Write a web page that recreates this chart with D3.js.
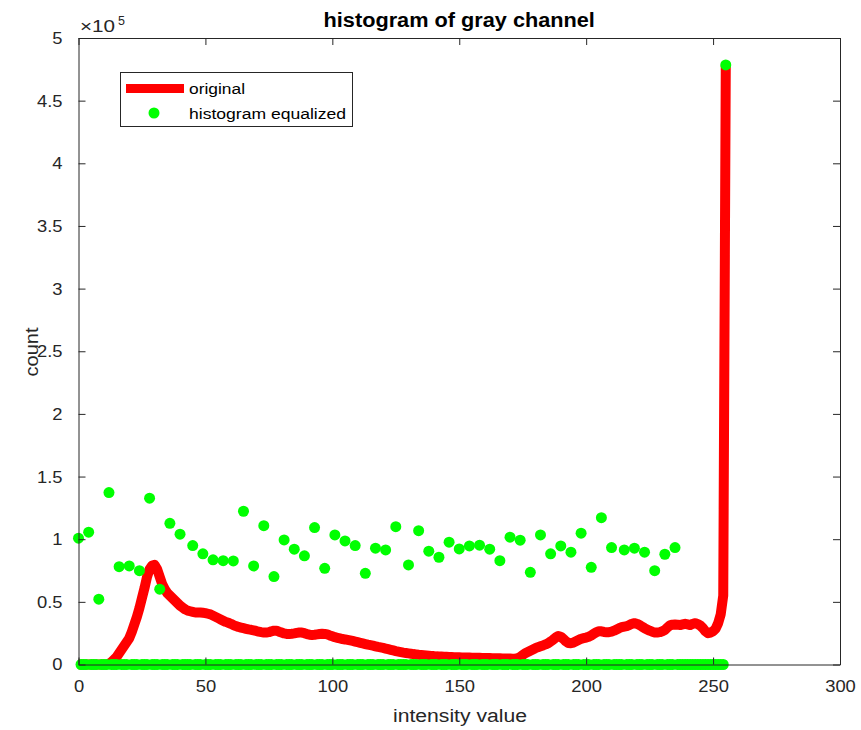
<!DOCTYPE html>
<html>
<head>
<meta charset="utf-8">
<script src="https://cdn.jsdelivr.net/npm/d3@7"></script>
<style>
  html, body { margin: 0; padding: 0; background: #fff; }
  svg { display: block; font-family: "Liberation Sans", Arial, Helvetica, sans-serif; }
</style>
</head>
<body>
<svg id="chart" width="861" height="730"></svg>
<script>
// ---------------- data ----------------
const chartTitle = "histogram of gray channel";
const xLabel = "intensity value";
const yLabel = "count";
const seriesNames = ["original", "histogram equalized"];
const xTicks = [0, 50, 100, 150, 200, 250, 300];
const yTicks = [0, 0.5e5, 1e5, 1.5e5, 2e5, 2.5e5, 3e5, 3.5e5, 4e5, 4.5e5, 5e5];
const yTickLabels = ["0", "0.5", "1", "1.5", "2", "2.5", "3", "3.5", "4", "4.5", "5"];

// intensity levels 0..255
const intensity = d3.range(0, 256);

// original histogram (counts, in units of 1e5)
const originalE5 = [
  0,0,0,0,0,0,0,0,0,0,0,0,                                   // 0-11
  0.005,0.02,0.04,0.06,0.09,0.12,0.15,0.18,0.21,0.26,         // 12-21
  0.32,0.38,0.45,0.53,0.61,0.70,0.76,0.79,0.795,0.76,         // 22-31
  0.70,0.64,0.60,0.57,0.55,0.53,0.51,0.49,0.47,0.455,         // 32-41
  0.44,0.43,0.425,0.42,0.415,0.415,0.415,0.413,0.41,0.405,    // 42-51
  0.40,0.39,0.38,0.37,0.36,0.35,0.34,0.333,0.325,0.315,       // 52-61
  0.307,0.30,0.295,0.29,0.285,0.28,0.277,0.273,0.268,0.262,   // 62-71
  0.258,0.255,0.255,0.258,0.265,0.27,0.27,0.262,0.255,0.248,  // 72-81
  0.244,0.243,0.245,0.248,0.252,0.255,0.255,0.25,0.243,0.238, // 82-91
  0.236,0.237,0.24,0.243,0.245,0.244,0.24,0.232,0.225,0.218,  // 92-101
  0.213,0.208,0.203,0.20,0.196,0.192,0.188,0.183,0.178,0.173, // 102-111
  0.168,0.163,0.158,0.154,0.15,0.145,0.14,0.136,0.132,0.127,  // 112-121
  0.122,0.117,0.112,0.107,0.103,0.099,0.095,0.092,0.089,0.086,// 122-131
  0.083,0.081,0.078,0.076,0.074,0.072,0.07,0.068,0.067,0.065, // 132-141
  0.064,0.063,0.062,0.061,0.06,0.059,0.058,0.058,0.057,0.056, // 142-151
  0.056,0.055,0.055,0.054,0.054,0.053,0.053,0.052,0.052,0.051,// 152-161
  0.051,0.05,0.05,0.049,0.049,0.048,0.048,0.047,0.047,0.046,  // 162-171
  0.046,0.05,0.06,0.075,0.09,0.10,0.11,0.12,0.13,0.138,       // 172-181
  0.145,0.152,0.16,0.17,0.183,0.198,0.215,0.228,0.222,0.205,  // 182-191
  0.185,0.172,0.17,0.175,0.185,0.195,0.205,0.21,0.215,0.222,  // 192-201
  0.232,0.245,0.258,0.265,0.265,0.26,0.258,0.258,0.262,0.27,  // 202-211
  0.28,0.29,0.298,0.303,0.307,0.315,0.325,0.33,0.325,0.315,   // 212-221
  0.302,0.29,0.28,0.27,0.262,0.256,0.255,0.258,0.265,0.275,   // 222-231
  0.295,0.312,0.318,0.32,0.318,0.315,0.32,0.325,0.32,0.315,   // 232-241
  0.325,0.33,0.322,0.31,0.29,0.265,0.25,0.255,0.265,0.285,    // 242-251
  0.33,0.40,0.55,4.78                                         // 252-255
];

// histogram-equalized: non-empty bins (all other bins are 0)
const eqBins = [0,4,8,12,16,20,24,28,32,36,40,45,49,53,57,61,65,69,73,77,81,85,89,93,97,
  101,105,109,113,117,121,125,130,134,138,142,146,150,154,158,162,166,170,174,178,182,186,
  190,194,198,202,206,210,215,219,223,227,231,235,255];
const eqValuesE5 = [1.008,1.056,0.521,1.372,0.781,0.787,0.749,1.327,0.601,1.127,1.040,0.949,
  0.883,0.835,0.829,0.827,1.223,0.787,1.108,0.702,0.994,0.920,0.867,1.093,0.768,1.034,0.986,
  0.949,0.728,0.928,0.914,1.100,0.795,1.068,0.904,0.856,0.976,0.922,0.946,0.952,0.920,0.829,
  1.016,0.992,0.736,1.034,0.883,0.946,0.896,1.048,0.776,1.172,0.933,0.914,0.928,0.896,0.749,
  0.880,0.933,4.785];

// ---------------- build series ----------------
const original = intensity.map((v, i) => ({ x: v, y: originalE5[i] * 1e5 }));
const eqMap = new Map(eqBins.map((b, i) => [b, eqValuesE5[i] * 1e5]));
const equalized = intensity.map(v => ({ x: v, y: eqMap.has(v) ? eqMap.get(v) : 0 }));

// ---------------- layout ----------------
const svg = d3.select("#chart");
const M = { left: 78.5, right: 840, top: 38, bottom: 664.5 };
const ink = "#262626";
const STRETCH = 1.08;   // reference glyphs are a bit wider than Liberation Sans

function widen(sel, factor) {
  sel.each(function () {
    const w = this.getComputedTextLength();
    if (w > 0) {
      this.setAttribute("textLength", (w * factor).toFixed(2));
      this.setAttribute("lengthAdjust", "spacingAndGlyphs");
    }
  });
  return sel;
}

const xScale = d3.scaleLinear().domain([0, 300]).range([M.left, M.right]);
const yScale = d3.scaleLinear().domain([0, 5e5]).range([M.bottom, M.top]);

svg.append("rect").attr("width", 861).attr("height", 730).attr("fill", "#fff");

svg.append("clipPath").attr("id", "clip").append("rect")
  .attr("x", M.left - 8).attr("y", M.top)
  .attr("width", M.right - M.left + 8).attr("height", M.bottom - M.top + 10);

const plot = svg.append("g").attr("clip-path", "url(#clip)");

plot.append("path")
  .datum(original)
  .attr("fill", "none")
  .attr("stroke", "#ff0000")
  .attr("stroke-width", 10)
  .attr("stroke-linejoin", "round")
  .attr("stroke-linecap", "butt")
  .attr("d", d3.line().x(d => xScale(d.x)).y(d => yScale(d.y)));

plot.append("g").selectAll("circle")
  .data(equalized)
  .join("circle")
  .attr("cx", d => xScale(d.x))
  .attr("cy", d => yScale(d.y))
  .attr("r", 5.5)
  .attr("fill", "#00ff00");

// axes (box with inward ticks on all four sides)
const fontTick = 17;
const axB = svg.append("g").attr("transform", `translate(0,${M.bottom})`)
  .call(d3.axisBottom(xScale).tickValues(xTicks).tickSizeInner(-7).tickSizeOuter(0).tickPadding(15));
const axT = svg.append("g").attr("transform", `translate(0,${M.top})`)
  .call(d3.axisTop(xScale).tickValues(xTicks).tickSizeInner(-7).tickSizeOuter(0).tickFormat(""));
const axL = svg.append("g").attr("transform", `translate(${M.left},0)`)
  .call(d3.axisLeft(yScale).tickValues(yTicks).tickSizeInner(-7).tickSizeOuter(0).tickPadding(16)
    .tickFormat((d, i) => yTickLabels[i]));
const axR = svg.append("g").attr("transform", `translate(${M.right},0)`)
  .call(d3.axisRight(yScale).tickValues(yTicks).tickSizeInner(-7).tickSizeOuter(0).tickFormat(""));

[axB, axT, axL, axR].forEach(g => {
  g.attr("font-size", fontTick).attr("font-family", "'Liberation Sans', Arial, sans-serif");
  g.select(".domain").attr("stroke", ink).attr("stroke-width", 1);
  g.selectAll(".tick line").attr("stroke", ink).attr("stroke-width", 1);
  g.selectAll(".tick text").attr("fill", ink);
});
widen(axB.selectAll(".tick text"), STRETCH);
widen(axL.selectAll(".tick text"), STRETCH);

// exponent label
const expo = svg.append("text").attr("x", 80).attr("y", 32).attr("fill", ink)
  .attr("font-size", 17).attr("textLength", 35).attr("lengthAdjust", "spacingAndGlyphs").text("×10");
svg.append("text").attr("x", 118).attr("y", 25).attr("fill", ink)
  .attr("font-size", 12.5).text("5");

// title & labels
widen(svg.append("text").attr("x", (M.left + M.right) / 2).attr("y", 27)
  .attr("text-anchor", "middle").attr("font-weight", "bold").attr("font-size", 20)
  .attr("fill", "#000").text(chartTitle), 1.085);

svg.append("text").attr("x", 460).attr("y", 722)
  .attr("text-anchor", "middle").attr("font-size", 18).attr("fill", ink)
  .attr("textLength", 134).attr("lengthAdjust", "spacingAndGlyphs").text(xLabel);

svg.append("text").attr("transform", `translate(38,352) rotate(-90)`)
  .attr("text-anchor", "middle").attr("font-size", 18).attr("fill", ink)
  .attr("textLength", 49).attr("lengthAdjust", "spacingAndGlyphs").text(yLabel);

// legend
const lg = svg.append("g");
lg.append("rect").attr("x", 120.5).attr("y", 72.5).attr("width", 232).attr("height", 54)
  .attr("fill", "#fff").attr("stroke", ink).attr("stroke-width", 1);
lg.append("line").attr("x1", 126).attr("x2", 184).attr("y1", 88.5).attr("y2", 88.5)
  .attr("stroke", "#ff0000").attr("stroke-width", 9);
lg.append("circle").attr("cx", 154).attr("cy", 113).attr("r", 5.5).attr("fill", "#00ff00");
lg.append("text").attr("x", 189).attr("y", 94).attr("font-size", 15.5).attr("fill", "#000")
  .attr("textLength", 56).attr("lengthAdjust", "spacingAndGlyphs").text(seriesNames[0]);
lg.append("text").attr("x", 189).attr("y", 119).attr("font-size", 15.5).attr("fill", "#000")
  .attr("textLength", 157).attr("lengthAdjust", "spacingAndGlyphs").text(seriesNames[1]);
</script>
</body>
</html>
